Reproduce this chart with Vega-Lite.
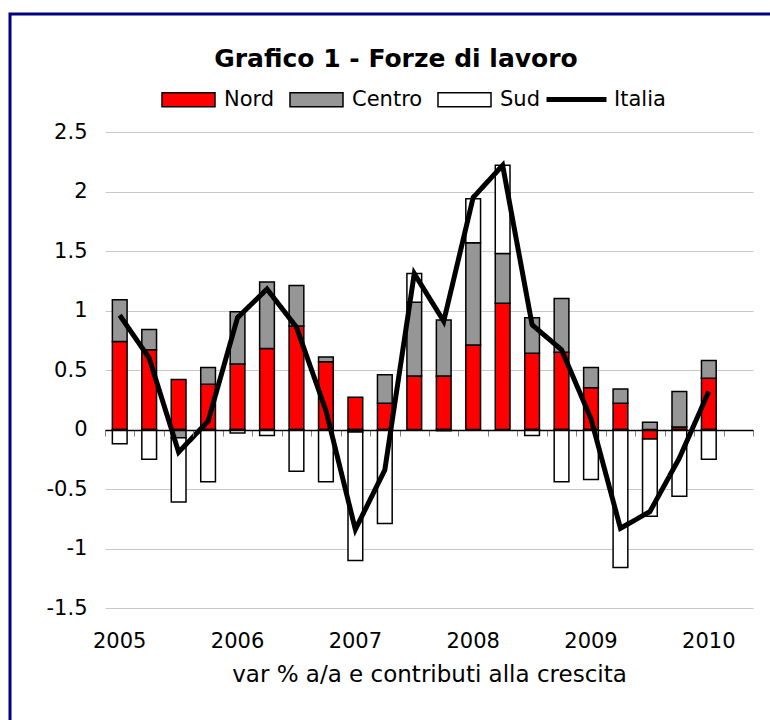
{
  "$schema": "https://vega.github.io/schema/vega-lite/v6.json",
  "width": 648,
  "height": 476,
  "autosize": {"type": "none"},
  "padding": {"left": 105, "top": 132, "right": 17, "bottom": 112},
  "background": "white",
  "title": {"text": "Grafico 1 - Forze di lavoro", "font": "DejaVu Sans", "fontSize": 25, "fontWeight": "bold", "color": "black", "anchor": "middle", "frame": "group", "dx": -33, "dy": 63},
  "datasets": {
    "regioni": [
      {"q": "2005 Q1", "r": "Nord", "v": 0.74}, {"q": "2005 Q1", "r": "Centro", "v": 0.35}, {"q": "2005 Q1", "r": "Sud", "v": -0.12},
      {"q": "2005 Q2", "r": "Nord", "v": 0.67}, {"q": "2005 Q2", "r": "Centro", "v": 0.17}, {"q": "2005 Q2", "r": "Sud", "v": -0.25},
      {"q": "2005 Q3", "r": "Nord", "v": 0.42}, {"q": "2005 Q3", "r": "Centro", "v": -0.07}, {"q": "2005 Q3", "r": "Sud", "v": -0.54},
      {"q": "2005 Q4", "r": "Nord", "v": 0.38}, {"q": "2005 Q4", "r": "Centro", "v": 0.14}, {"q": "2005 Q4", "r": "Sud", "v": -0.44},
      {"q": "2006 Q1", "r": "Nord", "v": 0.55}, {"q": "2006 Q1", "r": "Centro", "v": 0.44}, {"q": "2006 Q1", "r": "Sud", "v": -0.03},
      {"q": "2006 Q2", "r": "Nord", "v": 0.68}, {"q": "2006 Q2", "r": "Centro", "v": 0.56}, {"q": "2006 Q2", "r": "Sud", "v": -0.05},
      {"q": "2006 Q3", "r": "Nord", "v": 0.87}, {"q": "2006 Q3", "r": "Centro", "v": 0.34}, {"q": "2006 Q3", "r": "Sud", "v": -0.35},
      {"q": "2006 Q4", "r": "Nord", "v": 0.57}, {"q": "2006 Q4", "r": "Centro", "v": 0.04}, {"q": "2006 Q4", "r": "Sud", "v": -0.44},
      {"q": "2007 Q1", "r": "Nord", "v": 0.27}, {"q": "2007 Q1", "r": "Centro", "v": -0.02}, {"q": "2007 Q1", "r": "Sud", "v": -1.08},
      {"q": "2007 Q2", "r": "Nord", "v": 0.22}, {"q": "2007 Q2", "r": "Centro", "v": 0.24}, {"q": "2007 Q2", "r": "Sud", "v": -0.79},
      {"q": "2007 Q3", "r": "Nord", "v": 0.45}, {"q": "2007 Q3", "r": "Centro", "v": 0.62}, {"q": "2007 Q3", "r": "Sud", "v": 0.24},
      {"q": "2007 Q4", "r": "Nord", "v": 0.45}, {"q": "2007 Q4", "r": "Centro", "v": 0.47}, {"q": "2007 Q4", "r": "Sud", "v": -0.01},
      {"q": "2008 Q1", "r": "Nord", "v": 0.71}, {"q": "2008 Q1", "r": "Centro", "v": 0.86}, {"q": "2008 Q1", "r": "Sud", "v": 0.37},
      {"q": "2008 Q2", "r": "Nord", "v": 1.06}, {"q": "2008 Q2", "r": "Centro", "v": 0.42}, {"q": "2008 Q2", "r": "Sud", "v": 0.74},
      {"q": "2008 Q3", "r": "Nord", "v": 0.64}, {"q": "2008 Q3", "r": "Centro", "v": 0.30}, {"q": "2008 Q3", "r": "Sud", "v": -0.05},
      {"q": "2008 Q4", "r": "Nord", "v": 0.65}, {"q": "2008 Q4", "r": "Centro", "v": 0.45}, {"q": "2008 Q4", "r": "Sud", "v": -0.44},
      {"q": "2009 Q1", "r": "Nord", "v": 0.35}, {"q": "2009 Q1", "r": "Centro", "v": 0.17}, {"q": "2009 Q1", "r": "Sud", "v": -0.42},
      {"q": "2009 Q2", "r": "Nord", "v": 0.22}, {"q": "2009 Q2", "r": "Centro", "v": 0.12}, {"q": "2009 Q2", "r": "Sud", "v": -1.16},
      {"q": "2009 Q3", "r": "Nord", "v": -0.08}, {"q": "2009 Q3", "r": "Centro", "v": 0.06}, {"q": "2009 Q3", "r": "Sud", "v": -0.65},
      {"q": "2009 Q4", "r": "Nord", "v": 0.02}, {"q": "2009 Q4", "r": "Centro", "v": 0.30}, {"q": "2009 Q4", "r": "Sud", "v": -0.56},
      {"q": "2010 Q1", "r": "Nord", "v": 0.43}, {"q": "2010 Q1", "r": "Centro", "v": 0.15}, {"q": "2010 Q1", "r": "Sud", "v": -0.25}
    ],
    "italia": [
      {"q": "2005 Q1", "v": 0.96}, {"q": "2005 Q2", "v": 0.60}, {"q": "2005 Q3", "v": -0.19}, {"q": "2005 Q4", "v": 0.07},
      {"q": "2006 Q1", "v": 0.94}, {"q": "2006 Q2", "v": 1.18}, {"q": "2006 Q3", "v": 0.86}, {"q": "2006 Q4", "v": 0.16},
      {"q": "2007 Q1", "v": -0.84}, {"q": "2007 Q2", "v": -0.34}, {"q": "2007 Q3", "v": 1.31}, {"q": "2007 Q4", "v": 0.91},
      {"q": "2008 Q1", "v": 1.95}, {"q": "2008 Q2", "v": 2.22}, {"q": "2008 Q3", "v": 0.88}, {"q": "2008 Q4", "v": 0.67},
      {"q": "2009 Q1", "v": 0.09}, {"q": "2009 Q2", "v": -0.83}, {"q": "2009 Q3", "v": -0.69}, {"q": "2009 Q4", "v": -0.24},
      {"q": "2010 Q1", "v": 0.32}
    ]
  },
  "layer": [
    {
      "data": {"name": "regioni"},
      "transform": [{"window": [{"op": "row_number", "as": "k"}]}],
      "mark": {"type": "bar", "stroke": "black", "strokeWidth": 1.5},
      "encoding": {
        "x": {
          "field": "q", "type": "nominal",
          "scale": {"type": "band", "domain": ["2005 Q1","2005 Q2","2005 Q3","2005 Q4","2006 Q1","2006 Q2","2006 Q3","2006 Q4","2007 Q1","2007 Q2","2007 Q3","2007 Q4","2008 Q1","2008 Q2","2008 Q3","2008 Q4","2009 Q1","2009 Q2","2009 Q3","2009 Q4","2010 Q1","2010 Q2"], "paddingInner": 0.5, "paddingOuter": 0.25},
          "axis": {"orient": "bottom", "domain": false, "ticks": false, "grid": false, "labelAngle": 0, "labelOverlap": false,
                   "labelExpr": "indexof(datum.value, 'Q1') > 0 ? slice(datum.value, 0, 4) : ''",
                   "labelFont": "DejaVu Sans", "labelFontSize": 21, "labelColor": "black", "labelPadding": 22,
                   "title": "var % a/a e contributi alla crescita", "titleFont": "DejaVu Sans", "titleFontSize": 23, "titleFontWeight": "normal", "titleColor": "black", "titlePadding": 12}
        },
        "y": {
          "field": "v", "type": "quantitative", "stack": "zero",
          "scale": {"domain": [-1.5, 2.5], "nice": false, "zero": false},
          "axis": {"values": [-1.5, -1, -0.5, 0, 0.5, 1, 1.5, 2, 2.5], "labelExpr": "'' + datum.value",
                   "grid": true, "gridColor": "#c8c8c8", "gridWidth": 1, "domain": false, "ticks": false,
                   "labelFont": "DejaVu Sans", "labelFontSize": 21, "labelColor": "black", "labelPadding": 18, "title": null}
        },
        "color": {
          "field": "r", "type": "nominal",
          "scale": {"domain": ["Nord", "Centro", "Sud"], "range": ["#ff0000", "#969696", "#ffffff"]},
          "legend": {
            "orient": "none", "legendX": 56, "legendY": -60, "direction": "horizontal", "title": null,
            "symbolType": "M-1,-0.264H1V0.264H-1Z", "symbolSize": 2809,
            "symbolStrokeColor": "black", "symbolStrokeWidth": 1.5, "symbolOpacity": 1,
            "labelFont": "DejaVu Sans", "labelFontSize": 21, "labelColor": "black",
            "labelOffset": 8, "columnPadding": 12, "padding": 0
          }
        },
        "order": {"field": "k", "type": "quantitative"}
      }
    },
    {
      "data": {"name": "italia"},
      "mark": {"type": "line", "strokeWidth": 5},
      "encoding": {
        "x": {
          "field": "q", "type": "nominal",
          "scale": {"type": "band", "domain": ["2005 Q1","2005 Q2","2005 Q3","2005 Q4","2006 Q1","2006 Q2","2006 Q3","2006 Q4","2007 Q1","2007 Q2","2007 Q3","2007 Q4","2008 Q1","2008 Q2","2008 Q3","2008 Q4","2009 Q1","2009 Q2","2009 Q3","2009 Q4","2010 Q1","2010 Q2"], "paddingInner": 0, "paddingOuter": 0},
          "axis": {"orient": "bottom", "offset": -178, "labels": false, "ticks": true, "tickBand": "extent", "tickSize": 6, "tickColor": "#808080", "tickWidth": 1,
                   "domain": true, "domainColor": "black", "domainWidth": 1.5, "grid": false, "title": null, "zindex": 1}
        },
        "y": {"field": "v", "type": "quantitative"},
        "color": {
          "datum": "Italia",
          "scale": {"domain": ["Italia"], "range": ["#000000"]},
          "legend": {
            "orient": "none", "legendX": 439, "legendY": -65, "direction": "horizontal", "title": null,
            "symbolType": "stroke", "symbolSize": 3600, "symbolStrokeWidth": 5, "symbolOpacity": 1,
            "labelFont": "DejaVu Sans", "labelFontSize": 21, "labelColor": "black",
            "labelOffset": 5, "padding": 0
          }
        },
        "strokeDash": {
          "datum": "cornice",
          "scale": {"domain": ["cornice"], "range": [[1, 0]]},
          "legend": {
            "orient": "none", "legendX": -95, "legendY": -118, "title": null,
            "padding": 400, "strokeColor": "#000080", "cornerRadius": 0,
            "labelOpacity": 0, "symbolOpacity": 0
          }
        }
      }
    }
  ],
  "resolve": {"scale": {"x": "independent", "color": "independent"}, "axis": {"x": "independent"}},
  "config": {"view": {"stroke": null}, "font": "DejaVu Sans", "legend": {"strokeWidth": 3}}
}
